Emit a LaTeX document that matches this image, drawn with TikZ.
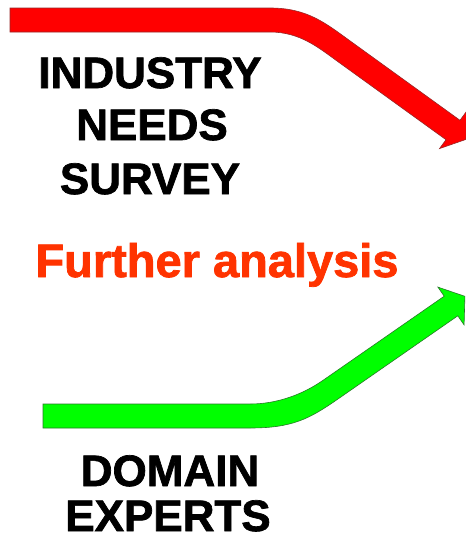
\documentclass[tikz,border=0pt]{standalone}
\usepackage{fontspec}
\setmainfont{Liberation Sans}
\newfontfamily\heavyfont[BoldFeatures={FakeBold=1.6}]{Liberation Sans}
\usepackage{tikz}

\definecolor{arrowred}{RGB}{255,0,0}
\definecolor{edgered}{RGB}{150,40,40}
\definecolor{arrowgreen}{RGB}{0,255,0}
\definecolor{edgegreen}{RGB}{40,120,40}
\definecolor{notecolor}{RGB}{255,51,0}

\begin{document}
\begin{tikzpicture}[x=1pt,y=-1pt]
    \tikzstyle{every node}+=[inner sep=0pt]
    \tikzstyle{title}=[font=\heavyfont\fontsize{44}{53}\selectfont\bfseries, anchor=base]
    \useasboundingbox (0,0) rectangle (466,539);
    \clip (0,0) rectangle (466,539);
    % red arrow, going down
    \filldraw [fill=arrowred, draw=edgered, line width=0.6pt] (10,8) -- (270,8)
        .. controls (308,8) and (326,23.6) .. (352,42.3) -- (460,120.3)
        -- (466.5,111.4) -- (466,139.4) -- (439.5,148.6) -- (446,139.7)
        -- (338,61.7) .. controls (318.6,47.7) and (300,32) .. (270,32)
        -- (10,32) -- cycle;
    \draw (150,88) node [title] (industry) {INDUSTRY};
    \draw (152,140) node [title] (needs) {NEEDS};
    \draw (150,194) node [title] (survey) {SURVEY};
    \draw (217,277) node [anchor=base, text=notecolor, font=\heavyfont\fontsize{47}{56}\selectfont\bfseries] (further) {Further analysis};
    % green arrow, going up
    \filldraw [fill=arrowgreen, draw=edgegreen, line width=0.6pt] (43,404) -- (250,404)
        .. controls (278,404) and (303.5,393.9) .. (323.2,380.2) -- (444.2,296.2)
        -- (437.9,287.1) -- (464.9,296.3) -- (464.1,324.9) -- (457.8,315.8)
        -- (336.8,399.8) .. controls (309,419) and (292,428) .. (250,428)
        -- (43,428) -- cycle;
    \draw (170,486) node [title] (domain) {DOMAIN};
    \draw (168,531) node [title] (experts) {EXPERTS};
\end{tikzpicture}
\end{document}
